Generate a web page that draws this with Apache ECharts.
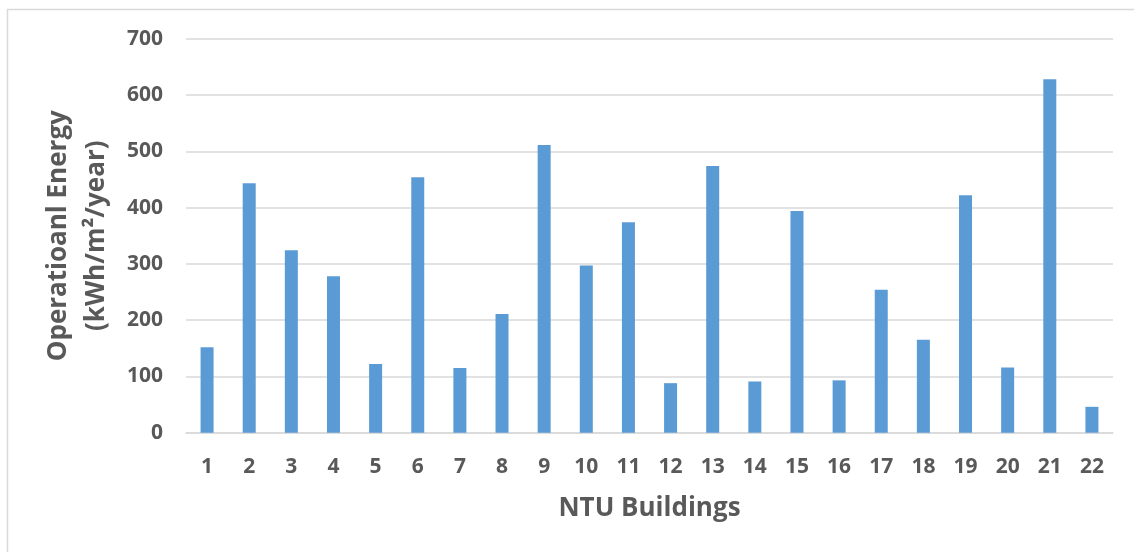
<!DOCTYPE html>
<html>
<head>
<meta charset="utf-8">
<title>NTU Buildings – Operational Energy</title>
<script src="https://cdn.jsdelivr.net/npm/echarts@6/dist/echarts.min.js"></script>
<style>
  html, body { margin: 0; padding: 0; background: #ffffff; }
  #chart { width: 1134px; height: 552px; }
</style>
</head>
<body>
<div id="chart"></div>
<script>
// Building numbers along the x axis
const buildings = ['1','2','3','4','5','6','7','8','9','10','11','12','13','14','15','16','17','18','19','20','21','22'];
// Operational energy per building, kWh/m²/year
const energy = [152, 443, 324, 278, 122, 454, 115, 211, 511, 297, 374, 88, 474, 91, 394, 93, 254, 165, 422, 116, 628, 46];
// Value axis ticks
const yTicks = [0, 100, 200, 300, 400, 500, 600, 700];

const textColor = '#595959';
const gridColor = '#d9d9d9';
const fontFamily = '"Open Sans", Lato, sans-serif';

const chart = echarts.init(document.getElementById('chart'), null, { renderer: 'canvas' });

chart.setOption({
  backgroundColor: '#ffffff',
  animation: false,
  graphic: [{
    type: 'rect',
    shape: { x: 7.5, y: 9.5, width: 1140, height: 560 },
    style: { fill: 'none', stroke: gridColor, lineWidth: 1.5 },
    silent: true
  }],
  grid: { left: 186, right: 21, top: 38.7, bottom: 119.3, containLabel: false },
  xAxis: {
    type: 'category',
    data: buildings,
    axisLine: { show: true, lineStyle: { color: gridColor, width: 1.5 } },
    axisTick: { show: false },
    axisLabel: { color: textColor, fontFamily, fontWeight: 'bold', fontSize: 21, margin: 24 },
    name: 'NTU Buildings',
    nameLocation: 'middle',
    nameGap: 63,
    nameTextStyle: { color: textColor, fontFamily, fontWeight: 'bold', fontSize: 26 }
  },
  yAxis: {
    type: 'value',
    min: yTicks[0],
    max: yTicks[yTicks.length - 1],
    interval: yTicks[1] - yTicks[0],
    axisLine: { show: false },
    axisTick: { show: false },
    splitLine: { show: true, lineStyle: { color: gridColor, width: 1.5 } },
    axisLabel: { color: textColor, fontFamily, fontWeight: 'bold', fontSize: 21, margin: 23 },
    name: 'Operatioanl Energy\n(kWh/m²/year)',
    nameLocation: 'middle',
    nameGap: 58,
    nameTextStyle: { color: textColor, fontFamily, fontWeight: 'bold', fontSize: 26, lineHeight: 38, align: 'center' }
  },
  series: [{
    type: 'bar',
    data: energy,
    barWidth: 13,
    itemStyle: { color: '#5b9bd5' }
  }]
});
</script>
</body>
</html>
